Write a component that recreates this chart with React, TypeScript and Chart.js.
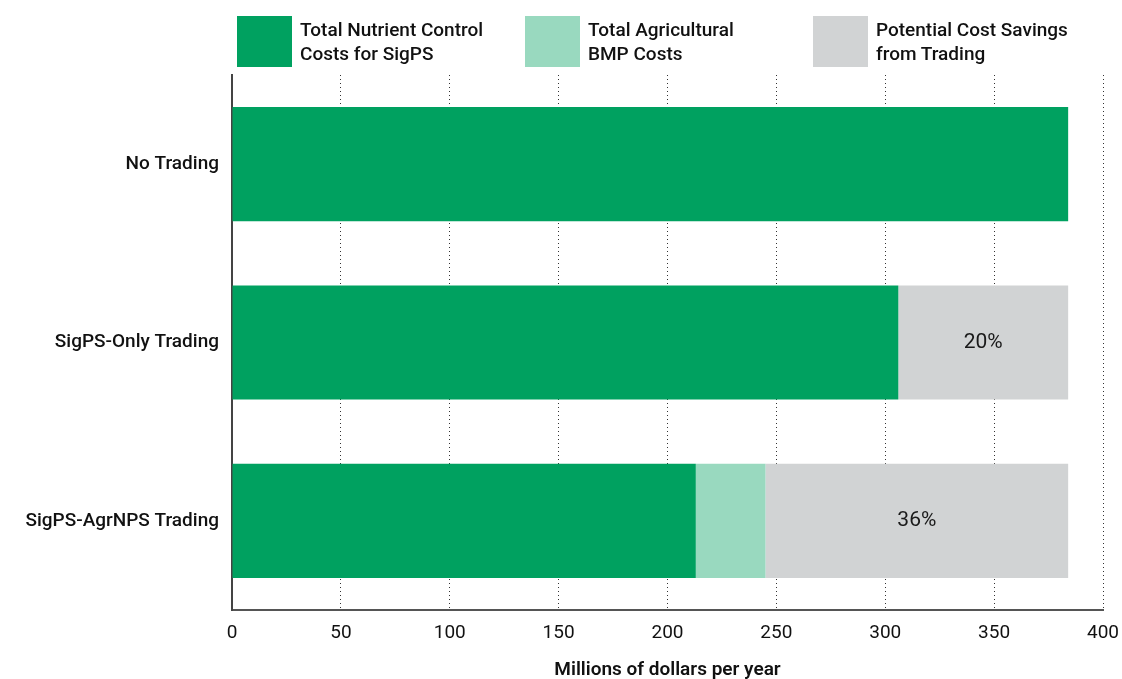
import React, { useEffect, useRef } from "react";
import { Chart, registerables } from "chart.js";

Chart.register(...registerables);

const categories = ["No Trading", "SigPS-Only Trading", "SigPS-AgrNPS Trading"];
const sigpsCosts = [384, 306, 213];
const agrBmpCosts = [0, 0, 32];
const savings = [0, 78, 139];
const savingsLabels = ["", "20%", "36%"];
const seriesNames = [
  ["Total Nutrient Control", "Costs for SigPS"],
  ["Total Agricultural", "BMP Costs"],
  ["Potential Cost Savings", "from Trading"],
];
const colors = ["#00A160", "#99D9BF", "#D1D3D4"];
const xTitle = "Millions of dollars per year";

const FONT = "Roboto, 'Noto Sans', sans-serif";

const labelPlugin = {
  id: "segLabels",
  afterDatasetsDraw(chart: any) {
    const ctx = chart.ctx;
    const meta = chart.getDatasetMeta(2);
    ctx.save();
    ctx.font = `400 21px ${FONT}`;
    ctx.fillStyle = "#1a1a1a";
    ctx.textAlign = "center";
    ctx.textBaseline = "middle";
    meta.data.forEach((el: any, i: number) => {
      const t = savingsLabels[i];
      if (!t) return;
      const cx = (el.x + el.base) / 2;
      ctx.fillText(t, cx, el.y);
    });
    ctx.restore();
  },
};

export default function App() {
  const ref = useRef<HTMLCanvasElement>(null);
  useEffect(() => {
    if (!ref.current) return;
    const chart = new Chart(ref.current, {
      type: "bar",
      data: {
        labels: categories,
        datasets: [
          { label: seriesNames[0].join(" "), data: sigpsCosts, backgroundColor: colors[0] },
          { label: seriesNames[1].join(" "), data: agrBmpCosts, backgroundColor: colors[1] },
          { label: seriesNames[2].join(" "), data: savings, backgroundColor: colors[2] },
        ],
      },
      options: {
        indexAxis: "y",
        animation: false,
        responsive: false,
        maintainAspectRatio: false,
        layout: { padding: { top: 75, right: 19, left: 0, bottom: 0 } },
        datasets: { bar: { categoryPercentage: 1, barPercentage: 0.64 } },
        plugins: { legend: { display: false }, tooltip: { enabled: false } },
        scales: {
          x: {
            stacked: true,
            min: 0,
            max: 400,
            ticks: { stepSize: 50, color: "#111", font: { family: FONT, size: 19 }, padding: 12 },
            grid: {
              color: (c: any) => (c.tick && c.tick.value === 0 ? "rgba(0,0,0,0)" : "#333"),
              lineWidth: 1,
              drawTicks: false,
            },
            border: { display: true, color: "#555", width: 2, dash: [1, 3] },
            title: {
              display: true,
              text: xTitle,
              color: "#111",
              font: { family: FONT, size: 19, weight: 600 },
              padding: { top: 12, bottom: -3 },
            },
            afterFit: (s: any) => {
              s.height = 69;
              s.paddingRight = 0;
              s.paddingLeft = 0;
            },
          },
          y: {
            stacked: true,
            ticks: { color: "#111", font: { family: FONT, size: 19, weight: 500 }, padding: 13 },
            grid: { display: false, drawTicks: false },
            border: { display: true, color: "#444", width: 2 },
            afterFit: (s: any) => {
              s.width = 232;
            },
          },
        },
      },
      plugins: [labelPlugin],
    });
    return () => chart.destroy();
  }, []);

  const legendX = [237, 525, 813];
  return (
    <div style={{ position: "absolute", left: 0, top: 0, width: 1122, height: 679, background: "#fff" }}>
      <canvas ref={ref} width={1122} height={679} style={{ display: "block" }} />
      {seriesNames.map((lines, i) => (
        <div key={i} style={{ position: "absolute", left: legendX[i], top: 16, display: "flex" }}>
          <div style={{ width: 55, height: 51, background: colors[i] }} />
          <div
            style={{
              marginLeft: 8,
              marginTop: 2,
              fontFamily: FONT,
              fontSize: 19,
              fontWeight: 500,
              lineHeight: "24px",
              color: "#111",
              whiteSpace: "nowrap",
            }}
          >
            {lines.map((l, j) => (
              <div key={j}>{l}</div>
            ))}
          </div>
        </div>
      ))}
    </div>
  );
}
